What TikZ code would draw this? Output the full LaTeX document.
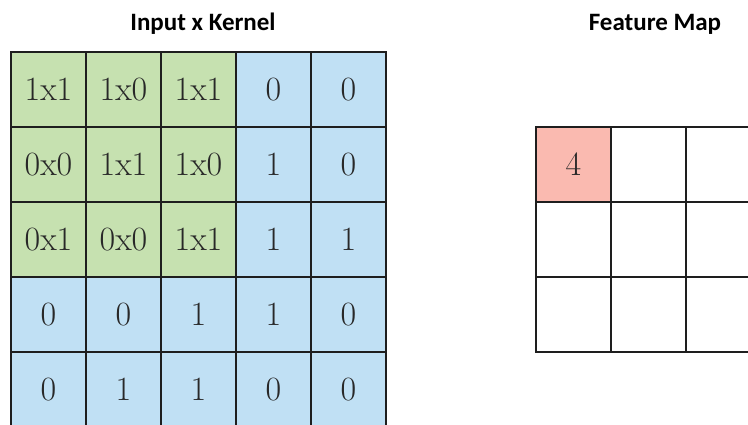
\documentclass[tikz,border=0pt]{standalone}
\usepackage{fontspec}
\newfontfamily\titlefont{Carlito}
\definecolor{kgreen}{RGB}{198,225,176}
\definecolor{iblue}{RGB}{192,224,244}
\definecolor{fpink}{RGB}{250,186,176}
\definecolor{gridline}{RGB}{30,30,30}
\definecolor{celltext}{RGB}{40,40,40}
\begin{document}
\begin{tikzpicture}[x=1pt,y=-1pt,
  cell/.style={draw=gridline, line width=1.8pt, minimum width=75pt,
    minimum height=75pt, inner sep=0pt, text=celltext,
    font=\fontsize{34}{34}\selectfont},
  heading/.style={anchor=base, font=\titlefont\bfseries\fontsize{25}{25}\selectfont}]
\useasboundingbox (0,0) rectangle (748,424);

% headings
\node[heading] (inTitle) at (203,30) {Input x Kernel};
\node[heading] (fmTitle) at (655,30) {Feature Map};

% 5x5 input, kernel overlay in the top-left 3x3
\foreach \row [count=\r] in {{1x1,1x0,1x1,0,0},{0x0,1x1,1x0,1,0},{0x1,0x0,1x1,1,1},{0,0,1,1,0},{0,1,1,0,0}}{
  \foreach \v [count=\c] in \row {
    \ifnum\r<4 \ifnum\c<4 \def\fc{kgreen}\else\def\fc{iblue}\fi\else\def\fc{iblue}\fi
    \node[cell, fill=\fc] (in-\r-\c) at ({48.5+75*(\c-1)},{89.5+75*(\r-1)}) {\v};
  }
}

% 3x3 feature map
\foreach \r in {1,2,3}{
  \foreach \c in {1,2,3}{
    \node[cell, fill=white] (fm-\r-\c) at ({573.5+75*(\c-1)},{164.5+75*(\r-1)}) {};
  }
}
\node[cell, fill=fpink] (fm-1-1) at (573.5,164.5) {4};
\end{tikzpicture}
\end{document}
